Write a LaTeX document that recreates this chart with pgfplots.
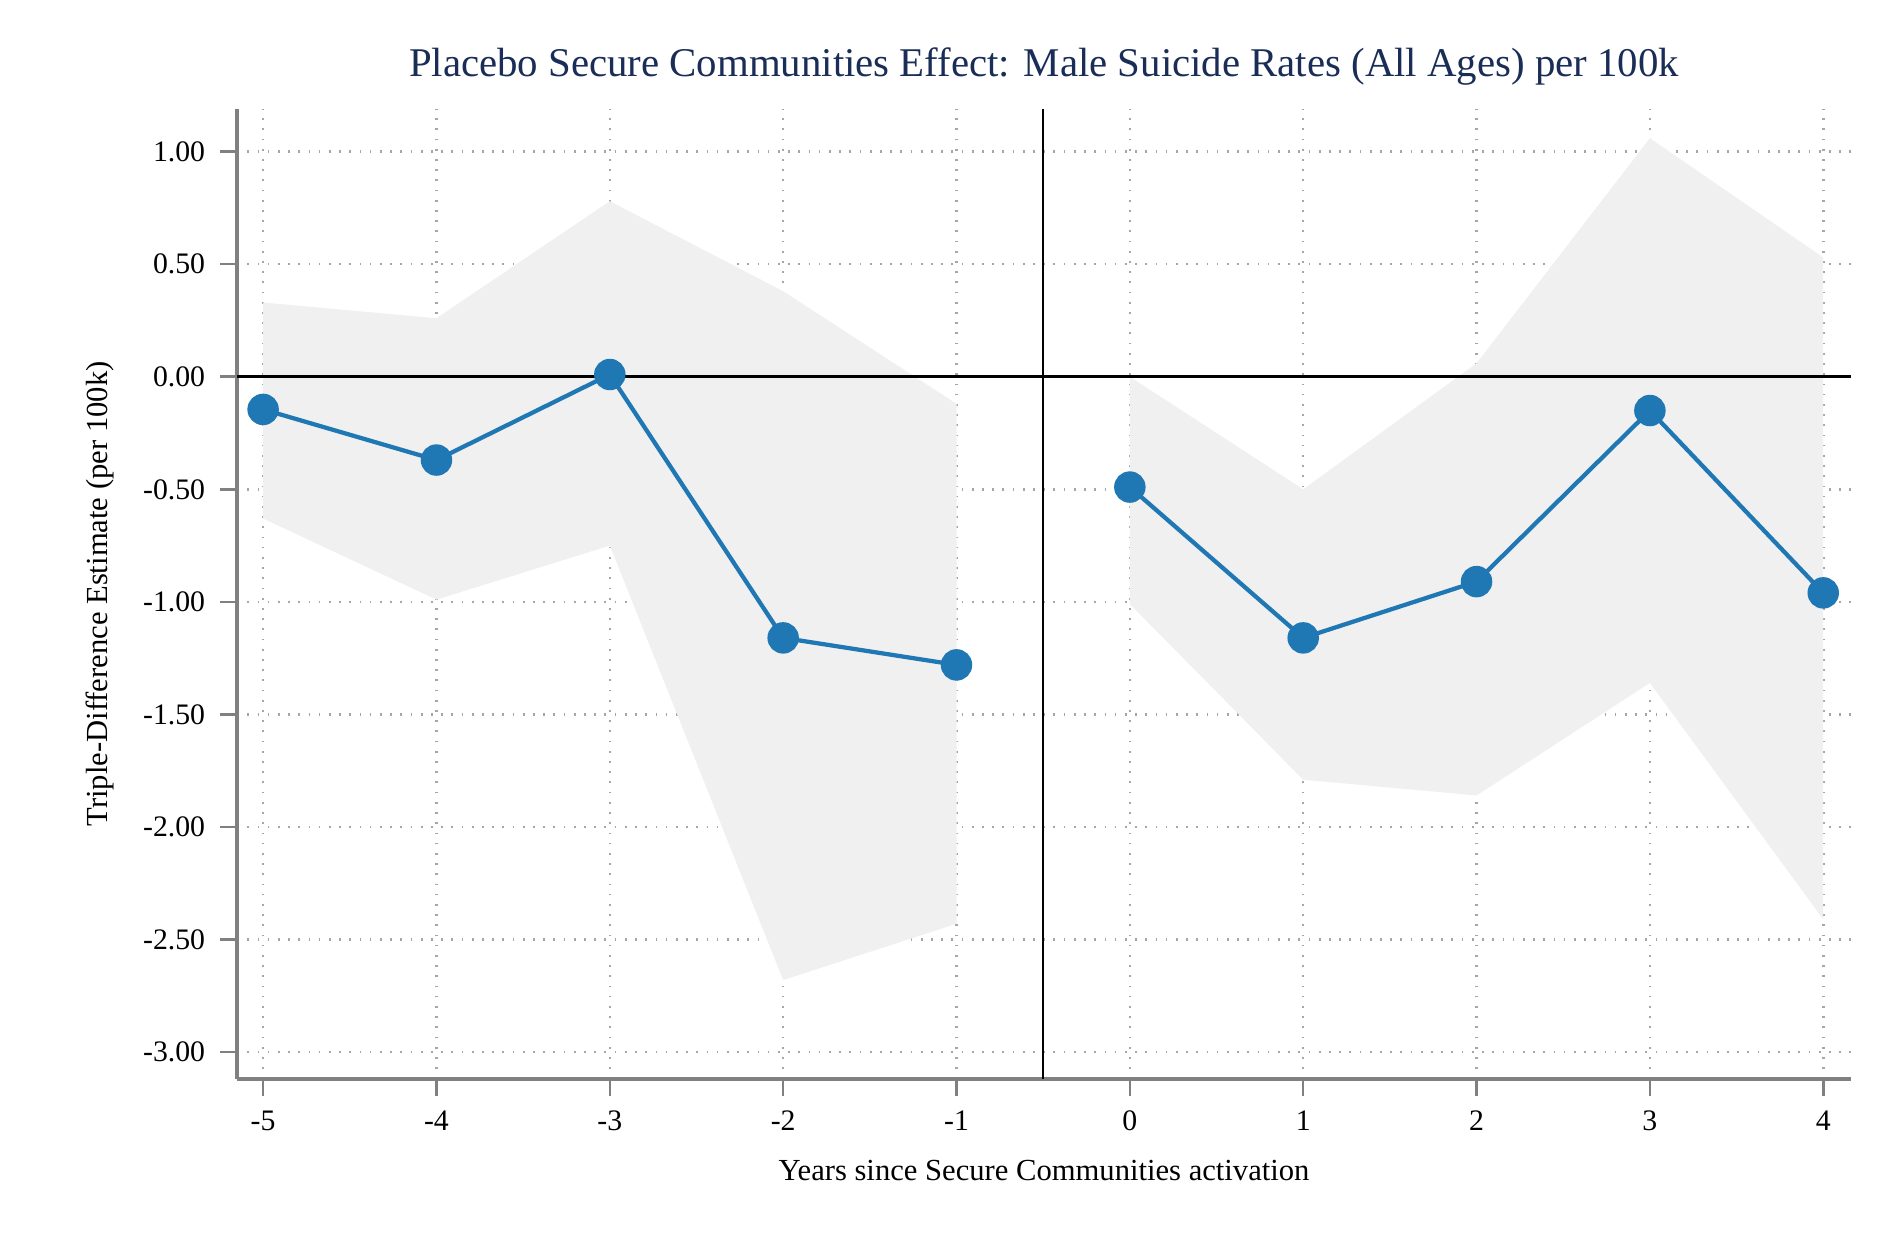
\documentclass[border=0pt]{standalone}
\usepackage{pgfplots}
\pgfplotsset{compat=1.18}
\usepackage{fontspec}
\setmainfont{Liberation Serif}
\definecolor{navy}{HTML}{1A2D57}
\definecolor{blu}{HTML}{1F77B4}
\begin{document}
\begin{tikzpicture}
\begin{axis}[at={(0,0)},anchor=south west,scale only axis,width=13.34cm,height=8.02cm,
 xmin=-5.15,xmax=4.16,ymin=-3.12,ymax=1.19,
 axis x line*=bottom, axis y line*=left,
 axis line style={gray,line width=0.8pt},
 xtick={-5,...,4}, ytick={-3,-2.5,...,1},
 yticklabel={\pgfmathprintnumber[fixed,fixed zerofill,precision=2]{\tick}},
 /pgf/number format/assume math mode=true,
 tick style={gray,line width=0.6pt}, tick align=outside, major tick length=4pt,
 grid=major, grid style={gray!70,dotted,line width=0.6pt},
 ticklabel style={font=\fontsize{7}{8}\selectfont},
 xlabel={Years since Secure Communities activation},
 ylabel={Triple-Difference Estimate (per 100k)},
 label style={font=\fontsize{7.2}{8}\selectfont},
 title={Placebo Secure Communities Effect: Male Suicide Rates (All Ages) per 100k},
 title style={font=\fontsize{9.6}{11}\selectfont,color=navy,yshift=-4pt},
]
\addplot[fill=gray!12,draw=none] coordinates {(-5,0.33)(-4,0.26)(-3,0.78)(-2,0.38)(-1,-0.12)(-1,-2.43)(-2,-2.68)(-3,-0.75)(-4,-0.99)(-5,-0.63)} --cycle;
\addplot[fill=gray!12,draw=none] coordinates {(0,0.0)(1,-0.5)(2,0.06)(3,1.06)(4,0.53)(4,-2.41)(3,-1.36)(2,-1.86)(1,-1.79)(0,-1.01)} --cycle;
\draw[black,line width=0.6pt] (axis cs:-5.15,0) -- (axis cs:4.16,0);
\draw[black,line width=0.6pt] (axis cs:-0.5,-3.12) -- (axis cs:-0.5,1.19);
\addplot[blu,line width=1pt,mark=*,mark size=3.2pt] coordinates {(-5,-0.145)(-4,-0.37)(-3,0.01)(-2,-1.16)(-1,-1.28)};
\addplot[blu,line width=1pt,mark=*,mark size=3.2pt] coordinates {(0,-0.49)(1,-1.16)(2,-0.91)(3,-0.15)(4,-0.96)};
\end{axis}
\path[use as bounding box] (-1.96cm,-1.446cm) rectangle ++(15.54cm,10.366cm);
\end{tikzpicture}
\end{document}
